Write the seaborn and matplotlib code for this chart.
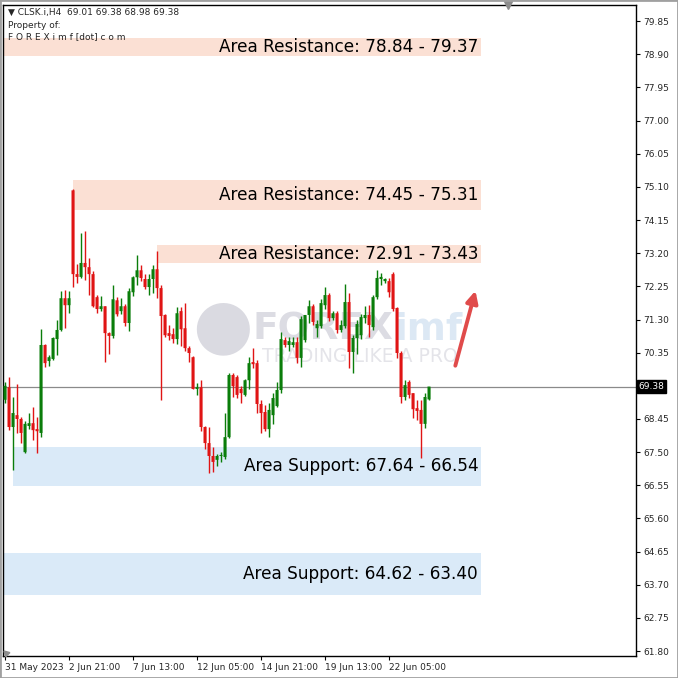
import numpy as np
import pandas as pd
import matplotlib
matplotlib.use("Agg")
import matplotlib.pyplot as plt
import matplotlib.patches as mpatches
import seaborn as sns

# candle data (H4 bars)
opens = [69.0, 69.36, 68.22, 68.56, 68.45, 67.5, 68.25, 68.33, 68.16, 68.05,
         70.57, 70.11, 70.17, 70.74, 71.0, 71.91, 71.71, 75.0, 72.6, 72.52,
         72.92, 72.8, 72.6, 71.94, 71.6, 71.68, 70.91, 70.83, 71.85, 71.54,
         71.68, 71.2, 72.08, 72.51, 72.71, 72.46, 72.23, 72.46, 72.74, 72.2,
         71.43, 70.91, 70.88, 70.74, 71.54, 71.05, 70.48, 70.22, 69.31, 69.36,
         68.22, 67.76, 67.39, 67.28, 67.39, 67.36, 67.93, 69.71, 69.65, 69.31,
         69.14, 69.56, 70.08, 70.05, 68.88, 68.65, 68.16, 68.56, 68.82, 69.28,
         70.71, 70.57, 70.57, 70.65, 70.2, 70.71, 71.43, 71.68, 71.05, 71.11,
         71.71, 72.0, 71.34, 71.48, 71.0, 71.11, 71.8, 70.37, 70.77, 70.85,
         71.34, 71.43, 71.08, 71.94, 72.46, 72.4, 72.4, 72.6, 71.63, 70.34,
         69.08, 69.51, 69.19, 68.76, 68.71, 68.31, 69.01]
highs = [69.5, 69.65, 69.08, 69.45, 68.5, 68.4, 68.62, 68.79, 68.5, 71.02,
         70.6, 70.28, 70.8, 71.28, 72.11, 72.14, 72.11, 75.05, 72.89, 73.78,
         73.83, 73.06, 72.69, 72.0, 71.97, 71.7, 70.93, 72.29, 71.95, 71.92,
         71.75, 72.2, 72.55, 73.15, 72.86, 72.6, 72.6, 72.86, 73.26, 72.3,
         71.45, 71.14, 71.05, 71.66, 71.66, 71.77, 70.55, 70.25, 69.48, 69.56,
         68.25, 68.22, 67.65, 67.45, 67.5, 68.62, 69.77, 69.77, 69.71, 69.4,
         69.6, 70.22, 70.48, 70.15, 69.0, 68.85, 68.9, 69.2, 69.5, 70.94,
         70.8, 70.8, 70.8, 70.8, 71.4, 71.43, 71.85, 71.75, 71.28, 71.9,
         72.23, 72.05, 71.55, 71.55, 71.3, 72.31, 72.05, 70.85, 71.3, 71.45,
         71.7, 71.72, 72.0, 72.71, 72.63, 72.5, 72.5, 72.66, 71.65, 70.4,
         69.56, 69.56, 69.2, 69.0, 69.0, 69.2, 69.38]
lows = [68.9, 68.13, 67.0, 68.05, 67.76, 67.47, 68.16, 67.85, 67.47, 67.93,
        69.94, 69.97, 70.15, 70.28, 70.97, 71.05, 71.48, 72.23, 72.34, 72.5,
        72.43, 72.0, 71.66, 71.48, 71.55, 70.08, 70.31, 70.78, 71.4, 71.45,
        71.11, 70.97, 71.97, 72.28, 72.4, 72.17, 72.0, 72.06, 71.91, 68.99,
        70.8, 70.7, 70.62, 70.6, 70.55, 70.4, 70.08, 69.3, 69.14, 68.1,
        67.59, 66.9, 66.92, 67.1, 67.22, 67.3, 67.9, 69.08, 69.05, 68.9,
        69.1, 69.3, 69.9, 68.62, 68.05, 68.1, 67.93, 68.3, 68.8, 69.2,
        70.5, 70.4, 70.5, 70.05, 69.94, 70.65, 71.2, 71.15, 70.8, 71.05,
        71.6, 71.25, 71.3, 70.9, 70.95, 71.05, 69.91, 69.77, 70.3, 70.75,
        71.2, 70.8, 71.0, 71.88, 72.3, 72.35, 71.95, 71.55, 70.2, 68.91,
        69.0, 69.05, 68.48, 68.42, 67.33, 68.19, 68.98]
closes = [69.4, 68.22, 68.62, 68.45, 68.05, 68.31, 68.33, 68.13, 68.1, 70.57,
          70.05, 70.22, 70.77, 71.0, 71.91, 71.71, 71.91, 72.6, 72.52, 72.92,
          72.8, 72.6, 71.68, 71.6, 71.68, 70.91, 70.83, 71.88, 71.45, 71.68,
          71.2, 72.11, 72.51, 72.71, 72.49, 72.23, 72.46, 72.74, 72.2, 71.4,
          70.85, 70.83, 70.74, 71.48, 71.02, 70.48, 70.34, 69.31, 69.36, 68.22,
          67.76, 67.39, 67.22, 67.39, 67.4, 67.93, 69.71, 69.39, 69.14, 69.19,
          69.56, 70.05, 70.02, 68.88, 68.62, 68.16, 68.71, 69.05, 69.28, 70.74,
          70.57, 70.68, 70.65, 70.2, 71.31, 71.43, 71.68, 71.23, 71.17, 71.77,
          72.0, 71.34, 71.48, 71.0, 71.14, 71.8, 70.37, 70.77, 71.17, 71.37,
          71.43, 71.14, 71.94, 72.49, 72.52, 72.46, 72.08, 71.6, 70.34, 69.08,
          69.42, 69.14, 68.73, 68.68, 68.31, 69.08, 69.38]

# x axis labels (bar index -> label)
date_ticks = [0, 16, 32, 48, 64, 80, 96]
date_labels = ["31 May 2023", "2 Jun 21:00", "7 Jun 13:00", "12 Jun 05:00",
               "14 Jun 21:00", "19 Jun 13:00", "22 Jun 05:00"]

# price axis labels
price_ticks = [79.85, 78.90, 77.95, 77.00, 76.05, 75.10, 74.15, 73.20, 72.25,
               71.30, 70.35, 68.45, 67.50, 66.55, 65.60, 64.65, 63.70, 62.75, 61.80]
last_price = 69.38

# zones: (label, low, high, start bar)
zone_names = ["Area Resistance: 78.84 - 79.37", "Area Resistance: 74.45 - 75.31",
              "Area Resistance: 72.91 - 73.43", "Area Support: 67.64 - 66.54",
              "Area Support: 64.62 - 63.40"]
zone_low = [78.84, 74.45, 72.91, 66.54, 63.40]
zone_high = [79.37, 75.31, 73.43, 67.64, 64.62]
zone_start = [-0.3, 17, 38, 2, -0.3]
zone_kind = ["res", "res", "res", "sup", "sup"]

df = pd.DataFrame({"open": opens, "high": highs, "low": lows, "close": closes})
df["bar"] = np.arange(len(df))
df["up"] = df["close"] >= df["open"]

sns.set_style("white")
plt.rcParams["font.family"] = ["DejaVu Sans"]

W = 678
fig = plt.figure(figsize=(6.78, 6.78), dpi=100)
ax = fig.add_axes([3 / W, 22 / W, 633 / W, 651 / W])

green = "#0A7D0A"
red = "#E01414"
zone_col = {"res": "#FBE0D4", "sup": "#DAEAF8"}

# zones
for name, lo, hi, st, kind in zip(zone_names, zone_low, zone_high, zone_start, zone_kind):
    ax.add_patch(mpatches.Rectangle((st, lo), 119 - st, hi - lo, color=zone_col[kind],
                                    lw=0, zorder=0))
    ax.text(118.3, (lo + hi) / 2, name, ha="right", va="center", fontsize=12.2,
            color="black", zorder=1)

# watermark (behind the candles)
ft = fig.transFigure
ax.text(222 / W, 1 - 327 / W, "\u25CF", fontsize=50, color="#DADAE1", ha="center",
        va="center", transform=ft, zorder=0.5)
ax.text(252 / W, 1 - 330 / W, "FOREX", fontsize=27, fontweight="bold", color="#DCDCE3",
        ha="left", va="center", transform=ft, zorder=0.5)
ax.text(395 / W, 1 - 330 / W, "imf", fontsize=27, fontweight="bold", color="#DCE8F4",
        ha="left", va="center", transform=ft, zorder=0.5)
ax.text(262 / W, 1 - 356 / W, "TRADING LIKE A PRO", fontsize=13.5, color="#E4E4E9",
        ha="left", va="center", transform=ft, zorder=0.5)

# last price line
ax.axhline(last_price, color="#8A8A8A", lw=0.9, zorder=1)

# candles
colors = np.where(df["up"], green, red)
ax.vlines(df["bar"], df["low"], df["high"], colors=colors, lw=1.0, zorder=2)
body_lo = df[["open", "close"]].min(axis=1)
body_h = (df["close"] - df["open"]).abs().clip(lower=0.03)
ax.bar(df["bar"], body_h, bottom=body_lo, width=0.75, color=colors, lw=0, zorder=3,
       snap=False)

# arrow
ax.annotate("", xy=(117.8, 72.2), xytext=(112.4, 69.9),
            arrowprops=dict(arrowstyle="-|>,head_length=0.7,head_width=0.35",
                            color="#E04B4B", lw=2.8), zorder=4)

# chart shift markers
ax.plot([125.75], [1.0], marker="v", ms=6, color="#8C8C8C",
        transform=ax.get_xaxis_transform(), clip_on=False, zorder=5)
ax.plot([0.2], [0.004], marker=(3, 0, 45), ms=5, color="#8C8C8C",
        transform=ax.get_xaxis_transform(), clip_on=False, zorder=5)

ax.set_xlim(-0.5, 157.75)
ax.set_ylim(61.66, 80.31)

ax.yaxis.tick_right()
ax.set_yticks(price_ticks)
ax.set_yticklabels([f"{p:.2f}" for p in price_ticks], fontsize=6.5)
ax.set_xticks(date_ticks)
ax.set_xticklabels(date_labels, fontsize=6.5, ha="left")
ax.tick_params(axis="both", length=3, width=0.8, color="black", pad=2, direction="out",
               right=True, bottom=True, left=False)
for s in ax.spines.values():
    s.set_color("black")
    s.set_linewidth(1.0)

# last price tag
ax.text(1.004, last_price, f"{last_price:.2f}", transform=ax.get_yaxis_transform(),
        fontsize=6.5, color="white", ha="left", va="center",
        bbox=dict(boxstyle="square,pad=0.2", fc="black", ec="black"))

# header text
fig.text(8 / W, 1 - 12 / W, "\u25BC CLSK.i,H4  69.01 69.38 68.98 69.38", fontsize=6.5,
         ha="left", va="center")
fig.text(8 / W, 1 - 25 / W, "Property of:", fontsize=6.5, ha="left", va="center")
fig.text(8 / W, 1 - 37 / W, "F O R E X i m f [dot] c o m", fontsize=6.5, ha="left",
         va="center")

# outer frame
fig.patches.append(mpatches.Rectangle((0, 0), 1, 1, transform=fig.transFigure, fill=False,
                                      ec="#A0A0A0", lw=2))

fig.savefig("out.png", dpi=100)
